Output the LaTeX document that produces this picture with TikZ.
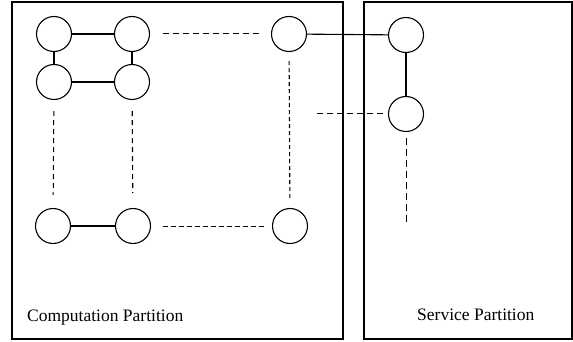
\documentclass[tikz,border=0pt]{standalone}
\usepackage{fontspec}
\setmainfont{Liberation Serif}
\begin{document}
\begin{tikzpicture}[x=1pt,y=-1pt,
  proc/.style={circle,draw,line width=1.1pt,minimum size=35pt,inner sep=0pt},
  part/.style={draw,line width=1.2pt},
  link/.style={line width=1.1pt},
  dlink/.style={line width=1pt,dash pattern=on 6pt off 4pt},
  dfine/.style={line width=1pt,dash pattern=on 4.5pt off 3.5pt},
  vlink/.style={line width=1pt,dash pattern=on 5pt off 4pt},
  lbl/.style={font=\fontsize{17.5pt}{20pt}\selectfont,inner sep=0pt,anchor=base west}]
\useasboundingbox (0,0) rectangle (573,342);
% partitions
\draw[part] (12,2) rectangle (343,339);
\draw[part] (364,2) rectangle (572,339);
% nodes
\node[proc] (c1) at (54,34) {};
\node[proc] (c2) at (132,34) {};
\node[proc] (c3) at (54,82) {};
\node[proc] (c4) at (132,82) {};
\node[proc] (c5) at (289,34) {};
\node[proc] (b1) at (53,226) {};
\node[proc] (b2) at (133,226) {};
\node[proc] (b3) at (290,226) {};
\node[proc] (s1) at (406,35) {};
\node[proc] (s2) at (406,114) {};
\coordinate (sx) at (317,114);
\coordinate (sy) at (406,226);
% solid links
\draw[link] (c1) -- (c2);
\draw[link] (c1) -- (c3);
\draw[link] (c2) -- (c4);
\draw[link] (c3) -- (c4);
\draw[link] (b1) -- (b2);
\draw[link] (c5) -- (s1);
\draw[link] (s1) -- (s2);
% dashed links
\draw[dlink,shorten <=12.5pt,shorten >=9pt] (c2) -- (c5);
\draw[dfine,shorten <=12pt,shorten >=8pt] (b2) -- (b3);
\draw[vlink,shorten <=11pt,shorten >=13pt] (c3) -- (b1);
\draw[vlink,line width=1.1pt,shorten <=11pt,shorten >=15pt] (c4) -- (b2);
\draw[vlink,line width=1.1pt,dash pattern=on 4pt off 3pt,shorten <=9pt,shorten >=7pt] (c5) -- (b3);
\draw[dlink,shorten >=5pt] (sx) -- (s2);
\draw[dlink,dash pattern=on 7pt off 4pt,shorten <=6pt] (s2) -- (sy);
% labels
\node[lbl] (lc) at (27,321) {Computation Partition};
\node[lbl] (ls) at (417,320) {Service Partition};
\end{tikzpicture}
\end{document}
